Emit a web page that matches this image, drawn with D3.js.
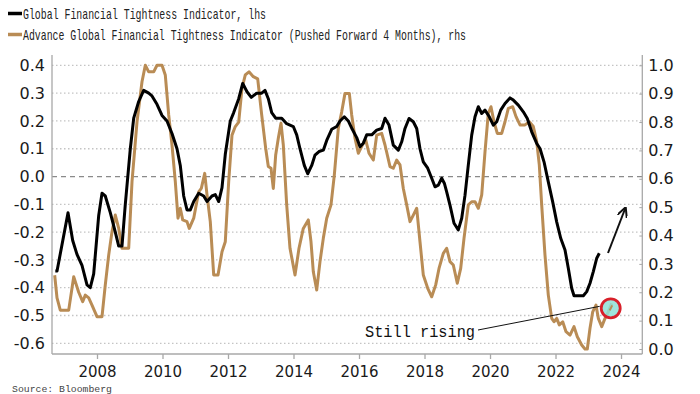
<!DOCTYPE html>
<html><head><meta charset="utf-8">
<script src="https://cdn.jsdelivr.net/npm/d3@7"></script>
<style>
html,body{margin:0;padding:0;background:#fff;}
svg{display:block;}
</style></head>
<body>
<svg id="chart" width="700" height="394"></svg>
<script>
// ---- data (decimal years) ----
const blackDates = [2006.727,2006.78,2007.115,2007.258,2007.389,2007.542,2007.695,2007.795,2007.899,2008.052,2008.153,2008.253,2008.406,2008.559,2008.663,2008.763,2008.864,2009.017,2009.121,2009.273,2009.426,2009.579,2009.679,2009.832,2009.985,2010.137,2010.29,2010.443,2010.543,2010.647,2010.748,2010.849,2010.953,2011.105,2011.258,2011.359,2011.511,2011.612,2011.716,2011.817,2011.917,2012.07,2012.174,2012.327,2012.449,2012.58,2012.711,2012.876,2013.029,2013.13,2013.231,2013.334,2013.456,2013.64,2013.792,2013.994,2014.098,2014.198,2014.33,2014.434,2014.556,2014.656,2014.779,2014.91,2015.014,2015.166,2015.319,2015.42,2015.551,2015.673,2015.795,2015.93,2016.031,2016.131,2016.235,2016.388,2016.54,2016.693,2016.794,2016.916,2017.047,2017.2,2017.304,2017.404,2017.527,2017.658,2017.762,2017.862,2017.963,2018.098,2018.22,2018.32,2018.421,2018.525,2018.605,2018.677,2018.778,2018.901,2019.032,2019.136,2019.237,2019.337,2019.441,2019.542,2019.643,2019.747,2019.847,2019.979,2020.101,2020.205,2020.327,2020.458,2020.611,2020.712,2020.864,2021.017,2021.139,2021.273,2021.426,2021.526,2021.649,2021.78,2021.914,2022.036,2022.159,2022.29,2022.391,2022.494,2022.565,2022.849,2022.953,2023.053,2023.154,2023.258,2023.337];
const blackValues = [-0.34,-0.34,-0.13,-0.23,-0.28,-0.32,-0.39,-0.40,-0.35,-0.14,-0.06,-0.07,-0.13,-0.20,-0.25,-0.25,-0.10,0.10,0.21,0.27,0.31,0.30,0.29,0.26,0.22,0.20,0.155,0.10,0.04,-0.07,-0.12,-0.12,-0.09,-0.06,-0.07,-0.09,-0.07,-0.065,-0.09,-0.04,0.08,0.20,0.23,0.28,0.335,0.305,0.285,0.30,0.30,0.31,0.28,0.23,0.21,0.21,0.19,0.18,0.15,0.10,0.04,0.01,0.04,0.077,0.09,0.095,0.13,0.17,0.18,0.20,0.215,0.20,0.17,0.14,0.107,0.12,0.15,0.15,0.167,0.173,0.21,0.185,0.113,0.095,0.125,0.173,0.209,0.197,0.173,0.10,0.053,0.03,-0.006,-0.037,-0.031,-0.006,-0.024,-0.055,-0.103,-0.168,-0.192,-0.15,-0.067,0.041,0.149,0.215,0.251,0.227,0.239,0.215,0.185,0.197,0.239,0.263,0.283,0.275,0.257,0.233,0.209,0.161,0.119,0.101,0.053,-0.019,-0.091,-0.163,-0.222,-0.264,-0.33,-0.402,-0.429,-0.429,-0.414,-0.384,-0.342,-0.294,-0.276];

const goldDates = [2006.708,2006.779,2006.879,2007.136,2007.289,2007.441,2007.563,2007.643,2007.747,2007.847,2008.0,2008.153,2008.253,2008.357,2008.458,2008.559,2008.663,2008.763,2008.968,2009.069,2009.221,2009.374,2009.475,2009.579,2009.731,2009.832,2009.985,2010.085,2010.189,2010.29,2010.391,2010.473,2010.543,2010.617,2010.748,2010.818,2010.953,2011.105,2011.185,2011.289,2011.359,2011.459,2011.563,2011.695,2011.817,2011.917,2012.021,2012.122,2012.223,2012.327,2012.427,2012.528,2012.641,2012.773,2012.907,2013.029,2013.151,2013.231,2013.313,2013.383,2013.456,2013.536,2013.618,2013.689,2013.792,2013.893,2014.046,2014.168,2014.299,2014.452,2014.534,2014.605,2014.708,2014.809,2014.91,2015.014,2015.145,2015.246,2015.368,2015.472,2015.572,2015.704,2015.777,2015.878,2015.979,2016.101,2016.205,2016.305,2016.437,2016.54,2016.693,2016.794,2016.947,2017.047,2017.151,2017.252,2017.353,2017.456,2017.557,2017.658,2017.762,2017.862,2017.963,2018.098,2018.22,2018.342,2018.443,2018.574,2018.677,2018.778,2018.879,2019.001,2019.105,2019.206,2019.337,2019.441,2019.542,2019.643,2019.747,2019.847,2019.948,2020.03,2020.122,2020.223,2020.357,2020.458,2020.559,2020.693,2020.794,2020.916,2021.069,2021.2,2021.322,2021.426,2021.505,2021.578,2021.679,2021.78,2021.884,2021.954,2022.036,2022.116,2022.22,2022.321,2022.443,2022.565,2022.666,2022.8,2022.9,2022.971,2023.053,2023.136,2023.236,2023.307,2023.411,2023.511,2023.612,2023.716];
const goldValues = [0.26,0.18,0.137,0.137,0.255,0.20,0.167,0.19,0.18,0.155,0.114,0.114,0.226,0.331,0.413,0.472,0.425,0.355,0.355,0.59,0.80,0.942,1.0,0.977,0.977,1.0,1.0,0.966,0.825,0.719,0.59,0.461,0.496,0.455,0.449,0.425,0.461,0.554,0.566,0.619,0.543,0.449,0.261,0.261,0.343,0.378,0.59,0.754,0.784,0.80,0.919,0.966,0.977,0.96,0.952,0.825,0.707,0.643,0.637,0.566,0.684,0.743,0.796,0.719,0.508,0.355,0.261,0.355,0.425,0.455,0.378,0.272,0.208,0.308,0.39,0.461,0.508,0.613,0.778,0.836,0.901,0.901,0.825,0.743,0.69,0.719,0.737,0.69,0.666,0.754,0.76,0.719,0.643,0.637,0.666,0.649,0.566,0.508,0.449,0.472,0.496,0.378,0.261,0.214,0.184,0.226,0.284,0.337,0.355,0.308,0.296,0.232,0.284,0.39,0.508,0.519,0.519,0.496,0.543,0.695,0.831,0.854,0.801,0.76,0.76,0.801,0.848,0.854,0.819,0.79,0.79,0.801,0.784,0.731,0.649,0.508,0.331,0.19,0.108,0.096,0.108,0.085,0.096,0.061,0.049,0.079,0.043,0.014,0.0,0.0,0.073,0.131,0.155,0.108,0.079,0.108,0.131,0.161];

const xTickYears = [2008,2010,2012,2014,2016,2018,2020,2022,2024];
const leftTicks = [0.4,0.3,0.2,0.1,0.0,-0.1,-0.2,-0.3,-0.4,-0.5,-0.6];
const rightTicks = [1.0,0.9,0.8,0.7,0.6,0.5,0.4,0.3,0.2,0.1,0.0];
const legendLabels = ["Global Financial Tightness Indicator, lhs","Advance Global Financial Tightness Indicator (Pushed Forward 4 Months), rhs"];
const annotationText = "Still rising";
const sourceText = "Source: Bloomberg";

// ---- layout ----
const svg = d3.select("#chart");
const L = 52, R = 642.3, T = 55, B = 354;
const x = d3.scaleLinear().domain([2006.626, 2024.65]).range([L, R]);
const yL = d3.scaleLinear().domain([-0.6385, 0.4373]).range([B, T]);
const yR = d3.scaleLinear().domain([-0.0176, 1.0363]).range([B, T]);
const GOLD = "#b98c55";
const tickFont = "'DejaVu Sans', Verdana, sans-serif";
const monoFont = "'Liberation Mono', 'DejaVu Sans Mono', monospace";

// gridlines
svg.append("g").selectAll("line").data(leftTicks).join("line")
  .attr("x1", L).attr("x2", R)
  .attr("y1", d => yL(d)).attr("y2", d => yL(d))
  .attr("stroke", d => d === 0 ? "#8a8a8a" : "#c4c4c4")
  .attr("stroke-width", d => d === 0 ? 1.2 : 1.3)
  .attr("stroke-dasharray", d => d === 0 ? "5,4" : "1.5,2.5");

// spines
svg.append("line").attr("x1", L).attr("x2", L).attr("y1", T).attr("y2", B).attr("stroke", "#a8a8a8").attr("stroke-width", 1.3);
svg.append("line").attr("x1", R).attr("x2", R).attr("y1", T).attr("y2", B).attr("stroke", "#a8a8a8").attr("stroke-width", 1.3);
svg.append("line").attr("x1", L).attr("x2", R).attr("y1", B).attr("y2", B).attr("stroke", "#a8a8a8").attr("stroke-width", 1.3);

// x axis
const xAxis = d3.axisBottom(x).tickValues(xTickYears).tickFormat(d3.format("d")).tickSize(5).tickPadding(7);
const gx = svg.append("g").attr("transform", `translate(0,${B})`).call(xAxis);
gx.select(".domain").remove();
gx.selectAll(".tick line").attr("stroke", "#a8a8a8").attr("stroke-width", 1.3);
gx.selectAll(".tick text").attr("font-family", tickFont).attr("font-size", 15).attr("fill", "#1a1a1a");

// left axis
const yAxisL = d3.axisLeft(yL).tickValues(leftTicks).tickFormat(d3.format(".1f")).tickSize(0).tickPadding(7);
const gl = svg.append("g").attr("transform", `translate(${L},0)`).call(yAxisL);
gl.select(".domain").remove();
gl.selectAll(".tick text").attr("font-family", tickFont).attr("font-size", 16).attr("fill", "#1a1a1a")
  .text(d => d3.format(".1f")(d).replace("−", "-"));

// right axis
const yAxisR = d3.axisRight(yR).tickValues(rightTicks).tickFormat(d3.format(".1f")).tickSize(-3).tickPadding(6);
const gr = svg.append("g").attr("transform", `translate(${R},0)`).call(yAxisR);
gr.select(".domain").remove();
gr.selectAll(".tick line").attr("stroke", "#a8a8a8");
gr.selectAll(".tick text").attr("font-family", tickFont).attr("font-size", 16).attr("fill", "#1a1a1a");

// series
const goldData = goldDates.map((d, i) => [d, goldValues[i]]);
const blackData = blackDates.map((d, i) => [d, blackValues[i]]);
svg.append("path").datum(goldData)
  .attr("d", d3.line().x(d => x(d[0])).y(d => yR(d[1])).curve(d3.curveLinear))
  .attr("fill", "none").attr("stroke", GOLD).attr("stroke-width", 3).attr("stroke-linejoin", "round");
svg.append("path").datum(blackData)
  .attr("d", d3.line().x(d => x(d[0])).y(d => yL(d[1])).curve(d3.curveLinear))
  .attr("fill", "none").attr("stroke", "#000").attr("stroke-width", 3).attr("stroke-linejoin", "round");

// highlight circle at last gold point
const last = goldData[goldData.length - 1];
const cx = x(last[0]) - 1, cy = yR(last[1]) + 5;
svg.append("circle").attr("cx", cx).attr("cy", cy).attr("r", 9.5)
  .attr("fill", "#8fe0d6").attr("fill-opacity", 0.85).attr("stroke", "#d8202a").attr("stroke-width", 2.8);
svg.append("line").attr("x1", cx - 1).attr("y1", cy + 2).attr("x2", cx + 1.5).attr("y2", cy - 3)
  .attr("stroke", GOLD).attr("stroke-width", 2);

// annotation
svg.append("line").attr("x1", 478).attr("y1", 330).attr("x2", cx - 11).attr("y2", cy - 2)
  .attr("stroke", "#111").attr("stroke-width", 1);
svg.append("text").attr("x", 365).attr("y", 336.5).attr("font-family", monoFont).attr("font-size", 16)
  .attr("textLength", 110).attr("lengthAdjust", "spacingAndGlyphs").attr("fill", "#111").text(annotationText);

// arrow
svg.append("defs").append("marker").attr("id", "ah").attr("viewBox", "0 0 10 10")
  .attr("refX", 8).attr("refY", 5).attr("markerWidth", 5).attr("markerHeight", 5).attr("orient", "auto")
  .append("path").attr("d", "M0,0 L10,5 L0,10").attr("fill", "none").attr("stroke", "#111").attr("stroke-width", 2);
svg.append("line").attr("x1", 608).attr("y1", 253).attr("x2", 625).attr("y2", 209)
  .attr("stroke", "#111").attr("stroke-width", 2).attr("marker-end", "url(#ah)");

// legend
const legColors = ["#000", GOLD];
const legY = [13.5, 34.5];
const legW = [243, 443];
legendLabels.forEach((t, i) => {
  svg.append("line").attr("x1", 8).attr("x2", 22).attr("y1", legY[i]).attr("y2", legY[i])
    .attr("stroke", legColors[i]).attr("stroke-width", 3.5);
  svg.append("text").attr("x", 23).attr("y", legY[i] + 5).attr("font-family", monoFont).attr("font-size", 15)
    .attr("textLength", legW[i]).attr("lengthAdjust", "spacingAndGlyphs").attr("fill", "#222").text(t);
});

// source (small, at the very bottom)
svg.append("text").attr("x", 12).attr("y", 392).attr("font-family", monoFont).attr("font-size", 9)
  .attr("textLength", 100).attr("lengthAdjust", "spacingAndGlyphs").attr("fill", "#444").text(sourceText);
</script>
</body></html>
